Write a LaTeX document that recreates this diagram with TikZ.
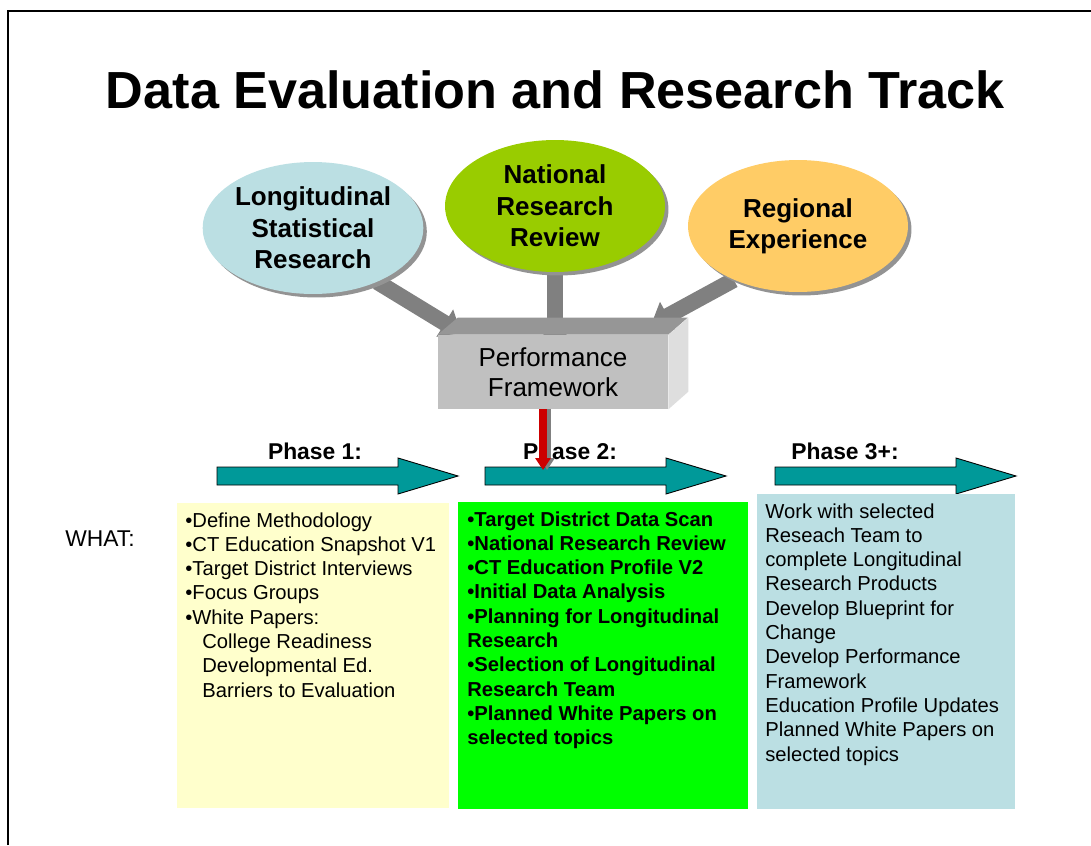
\documentclass[tikz,border=0pt]{standalone}
\usepackage{fontspec}
\setmainfont{Liberation Sans}
\usepackage{tikz}
\usetikzlibrary{arrows.meta, shapes.geometric, shadows, backgrounds, calc}
\definecolor{lsrblue}{HTML}{BBDFE3}
\definecolor{nrrgreen}{HTML}{99CC00}
\definecolor{regorange}{HTML}{FFCC66}
\definecolor{pfgray}{HTML}{C0C0C0}
\definecolor{pftop}{HTML}{969696}
\definecolor{pfside}{HTML}{DEDEDE}
\definecolor{feedgray}{HTML}{808080}
\definecolor{phaseteal}{HTML}{009999}
\definecolor{onecream}{HTML}{FFFFCC}
\definecolor{twogreen}{HTML}{00FF00}
\definecolor{leadred}{HTML}{CC0000}

\tikzset{
  bubble/.style={ellipse, minimum width=4.4cm, minimum height=2.64cm, inner sep=0pt,
    align=center, font=\fontsize{14.8}{17.9}\selectfont\bfseries,
    drop shadow={shadow xshift=0.07cm, shadow yshift=-0.07cm, fill=gray!85, opacity=1}},
  feed/.style={draw=feedgray, line width=0.32cm, -{Triangle[width=0.62cm, length=0.38cm]}},
  phasebox/.style={anchor=north west, inner sep=0pt, outer sep=0pt},
  listtext/.style={anchor=north west, inner sep=0pt, align=left,
    font=\fontsize{11.5}{13.84}\selectfont},
  phaselabel/.style={font=\fontsize{13}{15.6}\selectfont\bfseries, inner sep=0pt}
}

\begin{document}
\begin{tikzpicture}[x=0.02cm, y=-0.02cm]
\useasboundingbox (0,0) rectangle (1091,845);
\draw[line width=1.1pt] (8,845) -- (8,11) -- (1091,11);

% title
\node[font=\fontsize{29.7}{34}\selectfont\bfseries] (title) at (555.5,90) {Data Evaluation and Research Track};

% sources
\node[bubble, fill=lsrblue] (lsr) at (313,228) {Longitudinal\\Statistical\\Research};
\node[bubble, fill=nrrgreen] (nrr) at (555,206) {National\\Research\\Review};
\node[bubble, fill=regorange] (reg) at (798,226) {Regional\\Experience};

% framework box
\node[fill=pfgray, minimum width=4.6cm, minimum height=1.48cm, inner sep=0pt, align=center,
  font=\fontsize{14.8}{17}\selectfont] (pf) at (553,372) {Performance\\Framework};
\fill[pftop] (pf.north west) -- ++(20,-17) -- ++(230,0) -- (pf.north east) -- cycle;
\fill[pfside] (pf.north east) -- ++(20,-17) -- ++(0,74) -- (pf.south east) -- cycle;

\coordinate (tipL) at (461,333);
\coordinate (tipM) at (555,348);
\coordinate (tipR) at (651,325);
\begin{scope}[on background layer]
\draw[feed] (lsr.-40) -- (tipL);
\draw[feed] (nrr) -- (tipM);
\draw[feed] (reg.-140) -- (tipR);
\end{scope}

% phases
\foreach \x/\lx/\lab in {217/315/Phase 1:, 485/570/Phase 2:, 775/845/Phase 3+:}{
  \draw[fill=phaseteal, line width=0.5pt] (\x,467) -- ({\x+181},467) -- ({\x+181},458)
    -- ({\x+241},476) -- ({\x+181},494) -- ({\x+181},485) -- (\x,485) -- cycle;
  \node[phaselabel] at (\lx,451) {\lab};
}

\node[font=\fontsize{13}{15.6}\selectfont] (what) at (100,539) {WHAT:};

\node[phasebox, fill=onecream, minimum width=5.44cm, minimum height=6.1cm] (p1) at (177,503) {};
\node[phasebox, fill=twogreen, minimum width=5.8cm, minimum height=6.14cm] (p2) at (458,502) {};
\node[phasebox, fill=lsrblue, minimum width=5.16cm, minimum height=6.3cm] (p3) at (757,494) {};

\node[listtext] (p1text) at (185,512) {•Define Methodology\\•CT Education Snapshot V1\\•Target District Interviews\\•Focus Groups\\•White Papers:\\\hspace*{0.34cm}College Readiness\\\hspace*{0.34cm}Developmental Ed.\\\hspace*{0.34cm}Barriers to Evaluation};
\node[listtext, font=\fontsize{11.5}{13.84}\selectfont\bfseries] (p2text) at (467,511) {•Target District Data Scan\\•National Research Review\\•CT Education Profile V2\\•Initial Data Analysis\\•Planning for Longitudinal\\Research\\•Selection of Longitudinal\\Research Team\\•Planned White Papers on\\selected topics};
\node[listtext] (p3text) at (765,503) {Work with selected\\Reseach Team to\\complete Longitudinal\\Research Products\\Develop Blueprint for\\Change\\Develop Performance\\Framework\\Education Profile Updates\\Planned White Papers on\\selected topics};

% lead arrow
\coordinate (redtip) at (543,470);
\draw[draw=gray, line width=0.16cm, -{Triangle[width=0.3cm, length=0.24cm]}]
  ([xshift=0.08cm]pf.south -| redtip) -- ([xshift=0.08cm]redtip);
\draw[draw=leadred, line width=0.16cm, -{Triangle[width=0.3cm, length=0.24cm]}]
  (pf.south -| redtip) -- (redtip);
\end{tikzpicture}
\end{document}
